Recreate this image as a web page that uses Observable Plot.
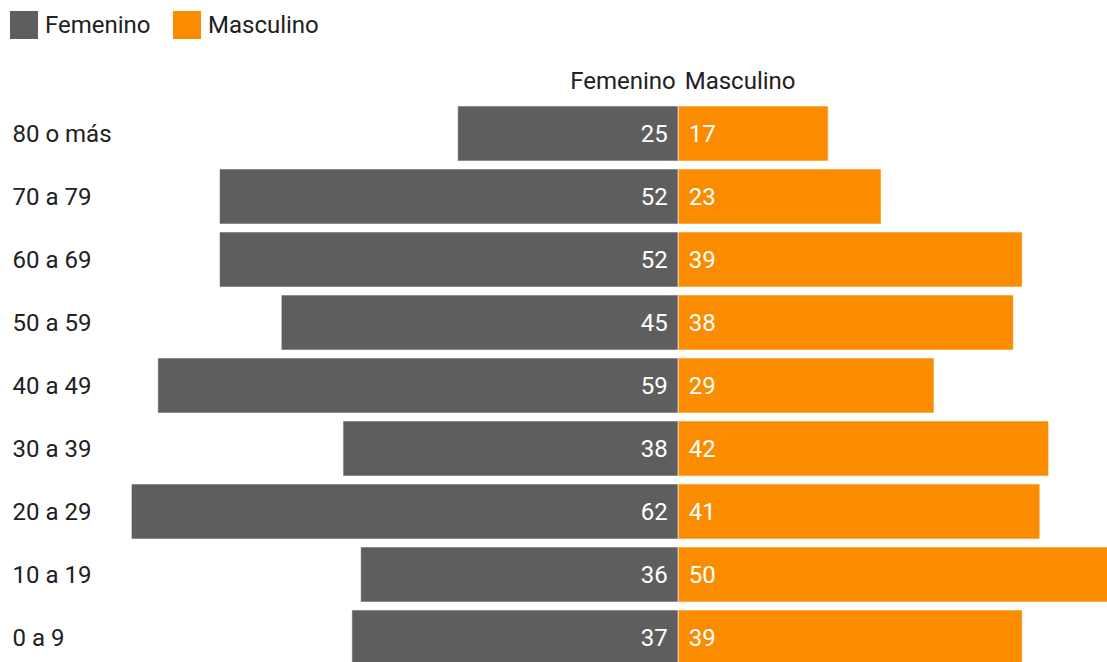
<!DOCTYPE html>
<html>
<head>
<meta charset="utf-8">
<script src="https://cdn.jsdelivr.net/npm/d3@7"></script>
<script src="https://cdn.jsdelivr.net/npm/@observablehq/plot@0.6"></script>
<style>
  html, body { margin: 0; padding: 0; background: #fff; overflow: hidden; width: 1107px; height: 662px; }
  body { font-family: Roboto, "Noto Sans", sans-serif; color: #212121; }
  #legend { height: 50px; position: relative; }
  .item { position: absolute; top: 11px; display: flex; align-items: center; font-size: 24px; line-height: 28px; }
  .sw { width: 28px; height: 28px; margin-right: 7px; }
  #chart svg { display: block; }
</style>
</head>
<body>
<div id="legend"></div>
<div id="chart"></div>
<script>
const ages = ["80 o más", "70 a 79", "60 a 69", "50 a 59", "40 a 49", "30 a 39", "20 a 29", "10 a 19", "0 a 9"];
const femenino = [25, 52, 52, 45, 59, 38, 62, 36, 37];
const masculino = [17, 23, 39, 38, 29, 42, 41, 50, 39];
const series = ["Femenino", "Masculino"];
const colors = ["#5e5e5e", "#fb8c00"];

// legend
const legend = document.getElementById("legend");
const legendX = [10, 173];
series.forEach((s, i) => {
  const d = document.createElement("div");
  d.className = "item";
  d.style.left = legendX[i] + "px";
  d.innerHTML = `<div class="sw" style="background:${colors[i]}"></div><span>${s}</span>`;
  legend.appendChild(d);
});

const data = [];
ages.forEach((a, i) => {
  data.push({age: a, sex: "Femenino", value: femenino[i], x: -femenino[i]});
  data.push({age: a, sex: "Masculino", value: masculino[i], x: masculino[i]});
});

const chart = Plot.plot({
  width: 1107,
  height: 620,
  marginTop: 50.4,
  marginBottom: 0,
  marginLeft: 149,
  marginRight: 76,
  style: {fontFamily: "Roboto, 'Noto Sans', sans-serif", fontSize: "24px", overflow: "hidden"},
  x: {domain: [-60, 40], axis: null},
  y: {domain: ages, axis: null, paddingInner: 0.13, paddingOuter: 0.065},
  color: {domain: series, range: colors},
  marks: [
    Plot.barX(data, {x1: 0, x2: "x", y: "age", fill: "sex", stroke: "white", strokeOpacity: 0.55, strokeWidth: 1}),
    Plot.text(data.filter(d => d.sex === "Femenino"), {x: 0, y: "age", text: d => String(d.value), textAnchor: "end", dx: -11, fill: "white", fontSize: 24}),
    Plot.text(data.filter(d => d.sex === "Masculino"), {x: 0, y: "age", text: d => String(d.value), textAnchor: "start", dx: 10, fill: "white", fontSize: 24}),
    Plot.text(ages, {y: d => d, text: d => d, frameAnchor: "left", textAnchor: "start", dx: -137, fill: "#212121", fontSize: 24}),
    Plot.text(["Femenino"], {x: 0, frameAnchor: "top", dy: -29, text: d => d, textAnchor: "end", dx: -3, fill: "#212121", fontSize: 24}),
    Plot.text(["Masculino"], {x: 0, frameAnchor: "top", dy: -29, text: d => d, textAnchor: "start", dx: 6, fill: "#212121", fontSize: 24})
  ]
});
document.getElementById("chart").appendChild(chart);
</script>
</body>
</html>
